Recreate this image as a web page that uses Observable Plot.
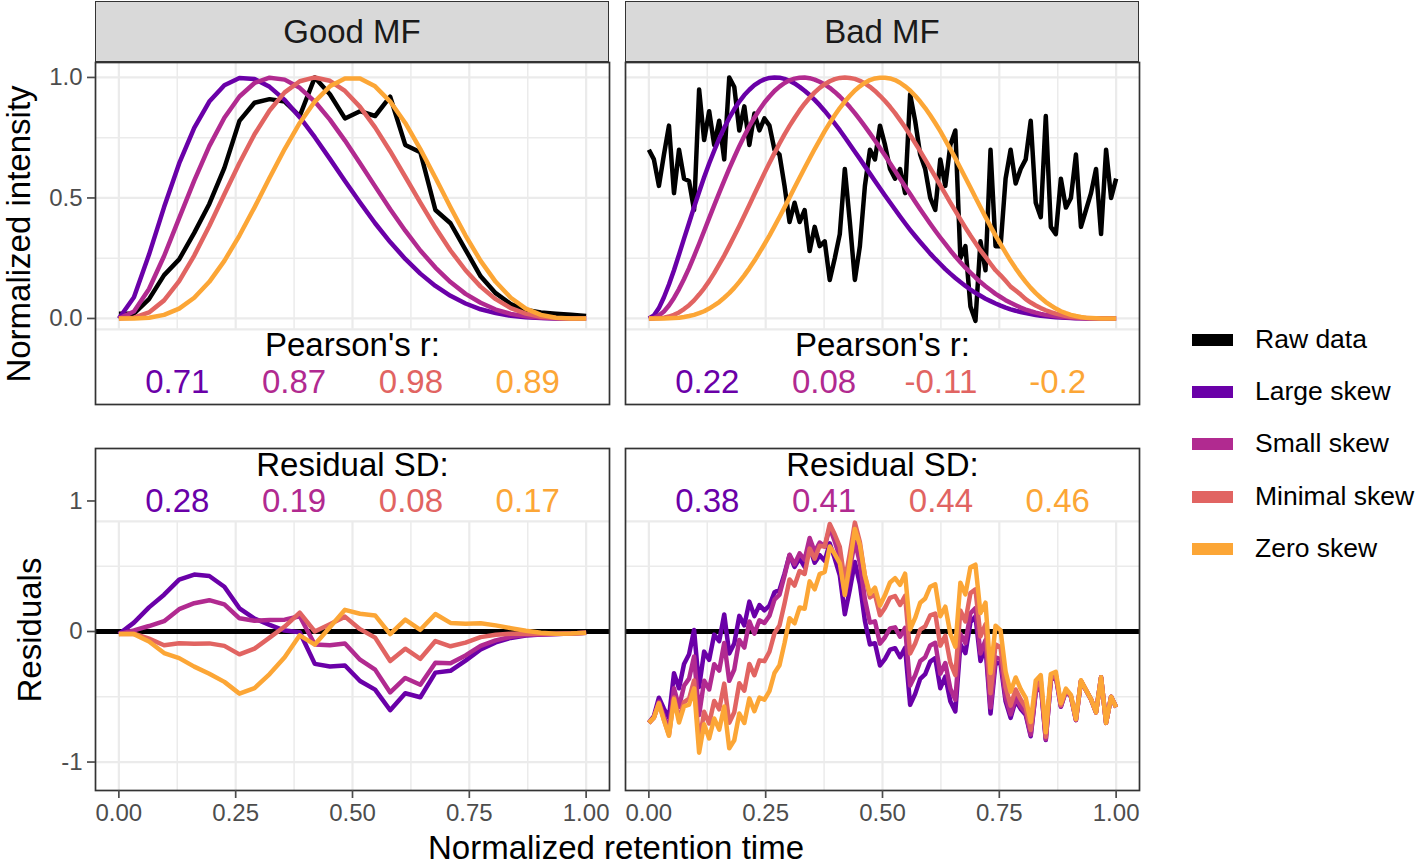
<!DOCTYPE html>
<html>
<head>
<meta charset="utf-8">
<script src="https://cdn.jsdelivr.net/npm/d3@7"></script>
<script src="https://cdn.jsdelivr.net/npm/@observablehq/plot@0.6"></script>
<style>
  html, body { margin: 0; padding: 0; background: #fff; }
  #wrap { position: relative; width: 1416px; height: 867px; overflow: hidden; font-family: 'Liberation Sans', Arial, Helvetica, sans-serif; }
  .strip { position: absolute; background: #d9d9d9; border: 1.7px solid #333; box-sizing: border-box;
           display: flex; align-items: center; justify-content: center; font-size: 33px; color: #1a1a1a; }
  .title { position: absolute; white-space: nowrap; font-size: 33px; line-height: 1; color: #000; }
  .key { position: absolute; width: 41px; height: 12px; }
  .keytxt { position: absolute; font-size: 26.5px; line-height: 1; color: #000; white-space: nowrap; }
</style>
</head>
<body>
<div id="wrap"></div>
<script>
// ---------------- data ----------------
const panelNames = ["Good MF", "Bad MF"];
const seriesNames = ["Raw data", "Large skew", "Small skew", "Minimal skew", "Zero skew"];
const seriesColors = ["#000000", "#6A00A8", "#B12A90", "#E16462", "#FCA636"];

// Good MF raw intensities (32 evenly spaced retention times)
const goodRaw = [0.02,0.02,0.08,0.18,0.245,0.355,0.475,0.625,0.82,0.895,0.91,0.90,0.84,1.0,0.93,0.83,
  0.86,0.84,0.92,0.72,0.69,0.45,0.395,0.285,0.175,0.105,0.06,0.035,0.025,0.02,0.015,0.01];

// Bad MF raw intensities (94 evenly spaced retention times)
const badRaw = [0.70,0.66,0.55,0.68,0.80,0.52,0.70,0.58,0.57,0.45,
  0.95,0.74,0.86,0.72,0.82,0.66,1.00,0.96,0.78,0.88,
  0.72,0.85,0.78,0.83,0.80,0.70,0.68,0.55,0.40,0.48,
  0.40,0.45,0.28,0.38,0.30,0.32,0.16,0.25,0.35,0.62,
  0.40,0.16,0.30,0.55,0.70,0.66,0.80,0.72,0.62,0.58,
  0.62,0.52,0.93,0.82,0.68,0.62,0.50,0.45,0.66,0.55,
  0.72,0.78,0.25,0.30,0.05,-0.01,0.32,0.20,0.70,0.30,
  0.30,0.58,0.70,0.56,0.62,0.66,0.82,0.48,0.42,0.84,
  0.38,0.35,0.58,0.46,0.50,0.68,0.38,0.45,0.52,0.62,
  0.35,0.70,0.50,0.58];

// Model fits (94 evenly spaced points; Good MF uses every third point)
const fitLarge = [0,0.012,0.043,0.088,0.141,0.200,0.265,0.331,0.396,0.462,0.525,0.586,0.643,0.696,0.746,0.791,
  0.832,0.868,0.900,0.927,0.949,0.968,0.982,0.992,0.998,1.0,0.999,0.994,0.986,0.975,0.961,0.945,0.927,0.907,
  0.885,0.861,0.835,0.808,0.781,0.752,0.722,0.692,0.662,0.631,0.601,0.570,0.540,0.510,0.481,0.452,0.423,0.395,
  0.368,0.342,0.317,0.293,0.269,0.247,0.226,0.205,0.186,0.168,0.151,0.135,0.120,0.106,0.094,0.082,0.072,0.062,
  0.053,0.045,0.038,0.032,0.027,0.022,0.018,0.014,0.011,0.009,0.007,0.005,0.004,0.003,0.002,0.001,0.001,
  0,0,0,0,0,0,0];
const fitSmall = [0,0.002,0.012,0.029,0.054,0.085,0.122,0.164,0.209,0.259,0.310,0.363,0.416,0.469,0.521,0.572,
  0.622,0.669,0.715,0.757,0.797,0.833,0.866,0.896,0.921,0.944,0.962,0.977,0.988,0.995,0.999,1.0,0.997,0.991,
  0.982,0.971,0.957,0.940,0.921,0.900,0.877,0.852,0.825,0.797,0.768,0.738,0.707,0.676,0.644,0.612,0.580,0.548,
  0.516,0.484,0.453,0.423,0.393,0.364,0.336,0.309,0.282,0.257,0.233,0.211,0.190,0.170,0.151,0.134,0.118,0.102,
  0.089,0.076,0.065,0.055,0.045,0.037,0.030,0.024,0.019,0.015,0.012,0.009,0.007,0.005,0.003,0.002,0.001,0.001,
  0.001,0,0,0,0,0];
const fitMinimal = [0,0,0.001,0.003,0.008,0.015,0.025,0.039,0.055,0.075,0.099,0.125,0.155,0.188,0.224,0.261,
  0.301,0.342,0.384,0.427,0.471,0.515,0.559,0.603,0.645,0.686,0.726,0.764,0.799,0.832,0.863,0.891,0.916,0.938,
  0.957,0.972,0.984,0.993,0.998,1.0,0.998,0.994,0.986,0.975,0.961,0.944,0.924,0.902,0.878,0.852,0.823,0.793,
  0.761,0.728,0.694,0.659,0.624,0.588,0.552,0.517,0.481,0.446,0.411,0.377,0.344,0.313,0.282,0.255,0.227,0.200,
  0.179,0.156,0.132,0.116,0.099,0.080,0.066,0.054,0.043,0.034,0.026,0.020,0.015,0.010,0.007,0.005,0.003,0.002,
  0.001,0.001,0,0,0,0];
const fitZero = [0,0,0,0,0.001,0.002,0.003,0.006,0.010,0.015,0.022,0.030,0.041,0.054,0.068,0.086,0.105,0.127,
  0.152,0.179,0.208,0.239,0.273,0.308,0.344,0.382,0.421,0.461,0.502,0.543,0.584,0.624,0.664,0.703,0.740,0.777,
  0.811,0.843,0.873,0.900,0.924,0.946,0.963,0.978,0.989,0.996,0.999,
  0.999,0.996,0.989,0.978,0.963,0.946,0.924,0.900,0.873,0.843,0.811,0.777,0.740,0.703,0.664,0.624,0.584,0.543,
  0.502,0.461,0.421,0.382,0.344,0.308,0.273,0.239,0.208,0.179,0.152,0.127,0.105,0.086,0.068,0.054,0.041,0.030,
  0.022,0.015,0.010,0.006,0.003,0.002,0.001,0,0,0,0];

// Annotation values
const pearsonGood = ["0.71", "0.87", "0.98", "0.89"];
const pearsonBad = ["0.22", "0.08", "-0.11", "-0.2"];
const residSdGood = ["0.28", "0.19", "0.08", "0.17"];
const residSdBad = ["0.38", "0.41", "0.44", "0.46"];

// Axis ticks
const xMajor = [0, 0.25, 0.5, 0.75, 1];
const xMinor = [0.125, 0.375, 0.625, 0.875];
const xTickLabels = ["0.00", "0.25", "0.50", "0.75", "1.00"];
const topYMajor = [0, 0.5, 1], topYMinor = [-0.25, 0.25, 0.75], topYLabels = ["0.0", "0.5", "1.0"];
const botYMajor = [-1, 0, 1], botYMinor = [-0.5, 0.5], botYLabels = ["-1", "0", "1"];

// ---------------- derived tables ----------------
const fits = [fitLarge, fitSmall, fitMinimal, fitZero];
const fitNames = seriesNames.slice(1);
const goodFits = fits.map(f => f.filter((_, i) => i % 3 === 0));
const gx = goodRaw.map((_, i) => i / (goodRaw.length - 1));
const bx = badRaw.map((_, i) => i / (badRaw.length - 1));

function intensityRows(xs, raw, fs) {
  const rows = raw.map((v, i) => ({x: xs[i], y: v, series: "Raw data"}));
  fs.forEach((f, j) => f.forEach((v, i) => rows.push({x: xs[i], y: v, series: fitNames[j]})));
  return rows;
}
function residualRows(xs, raw, fs) {
  const rows = [];
  fs.forEach((f, j) => f.forEach((v, i) => rows.push({x: xs[i], y: v - raw[i], series: fitNames[j]})));
  return rows;
}
function valueRows(vals, y) {
  return vals.map((t, i) => ({x: (i + 0.5) / 4, y, t, series: fitNames[i]}));
}

// ---------------- drawing ----------------
const FONT = "'Liberation Sans', Arial, Helvetica, sans-serif";
const GRID = "#ebebeb";
const wrap = document.getElementById("wrap");

function panel(cfg) {
  const marks = [
    Plot.ruleX(xMinor, {stroke: GRID, strokeWidth: 1.5}),
    Plot.ruleX(xMajor, {stroke: GRID, strokeWidth: 2.2}),
    Plot.ruleY(cfg.yMinor, {stroke: GRID, strokeWidth: 1.5}),
    Plot.ruleY(cfg.yMajor, {stroke: GRID, strokeWidth: 2.2}),
    Plot.rect([cfg.cover], {x1: "x1", x2: "x2", y1: "y1", y2: "y2", fill: "white"}),
    Plot.ruleY([cfg.coverEdge], {stroke: GRID, strokeWidth: 2.2})
  ];
  if (cfg.zero) marks.push(Plot.ruleY([0], {stroke: "black", strokeWidth: 4.8}));
  marks.push(Plot.line(cfg.rows, {x: "x", y: "y", z: "series", stroke: "series", strokeWidth: 4.5,
    strokeLinejoin: "round", strokeLinecap: "butt"}));
  marks.push(Plot.text([cfg.head], {x: "x", y: "y", text: "t", fontSize: 33, fill: "black", lineHeight: 0.9}));
  marks.push(Plot.text(cfg.vals, {x: "x", y: "y", text: "t", fill: "series", fontSize: 33, lineHeight: 0.9}));
  marks.push(Plot.frame({stroke: "#333", strokeWidth: 1.7}));
  if (cfg.showY) marks.push(Plot.axisY(cfg.yMajor, {anchor: "left", tickSize: 8, tickPadding: 5, fontSize: 24,
    color: "#4d4d4d", strokeWidth: 1.7, label: null,
    tickFormat: d => cfg.yLabels[cfg.yMajor.indexOf(d)]}));
  if (cfg.showX) marks.push(Plot.axisX(xMajor, {anchor: "bottom", tickSize: 8, tickPadding: 5, fontSize: 24,
    color: "#4d4d4d", strokeWidth: 1.7, label: null,
    tickFormat: d => xTickLabels[xMajor.indexOf(d)]}));
  const svg = Plot.plot({
    width: cfg.mL + 514, height: 342 + cfg.mB,
    marginLeft: cfg.mL, marginRight: 0, marginTop: 0, marginBottom: cfg.mB,
    x: {domain: [-0.05, 1.05], axis: cfg.showX ? undefined : null},
    y: {domain: cfg.yDomain, axis: cfg.showY ? undefined : null},
    color: {domain: seriesNames, range: seriesColors},
    style: {fontFamily: FONT, background: "transparent", overflow: "visible"},
    marks
  });
  svg.style.position = "absolute";
  svg.style.left = cfg.left + "px";
  svg.style.top = cfg.top + "px";
  svg.style.maxWidth = "none";
  wrap.appendChild(svg);
}

const topDomain = [-0.357, 1.062];
const botDomain = [-1.218, 1.402];
const topCover = {x1: -0.05, x2: 1.05, y1: topDomain[0], y2: -0.045};
const botCover = {x1: -0.05, x2: 1.05, y1: 0.843, y2: botDomain[1]};

[
  {name: 0, left: 0, mL: 95, xs: gx, raw: goodRaw, fs: goodFits, pr: pearsonGood, sd: residSdGood, showY: true},
  {name: 1, left: 625, mL: 0, xs: bx, raw: badRaw, fs: fits, pr: pearsonBad, sd: residSdBad, showY: false}
].forEach(p => {
  panel({
    left: p.left, top: 62, mL: p.mL, mB: 0, showY: p.showY, showX: false,
    yDomain: topDomain, yMajor: topYMajor, yMinor: topYMinor, yLabels: topYLabels,
    cover: topCover, coverEdge: -0.045, zero: false,
    rows: intensityRows(p.xs, p.raw, p.fs),
    head: {x: 0.5, y: -0.115, t: "Pearson's r:"},
    vals: valueRows(p.pr, -0.27)
  });
  panel({
    left: p.left, top: 448, mL: p.mL, mB: 45, showY: p.showY, showX: true,
    yDomain: botDomain, yMajor: botYMajor, yMinor: botYMinor, yLabels: botYLabels,
    cover: botCover, coverEdge: 0.843, zero: true,
    rows: residualRows(p.xs, p.raw, p.fs),
    head: {x: 0.5, y: 1.267, t: "Residual SD:"},
    vals: valueRows(p.sd, 0.99)
  });
  const s = document.createElement("div");
  s.className = "strip";
  s.style.left = (p.name === 0 ? 95 : 625) + "px";
  s.style.top = "1px"; s.style.width = "514px"; s.style.height = "61px";
  s.textContent = panelNames[p.name];
  wrap.appendChild(s);
});

// axis titles
function title(text, cx, cy, rotate) {
  const d = document.createElement("div");
  d.className = "title";
  d.textContent = text;
  d.style.left = cx + "px"; d.style.top = cy + "px";
  d.style.transform = "translate(-50%,-50%)" + (rotate ? " rotate(-90deg)" : "");
  wrap.appendChild(d);
}
title("Normalized intensity", 18, 234, true);
title("Residuals", 29, 630, true);
title("Normalized retention time", 616, 847, false);

// legend
const keyY = [340, 392, 444, 497, 549];
seriesNames.forEach((n, i) => {
  const k = document.createElement("div");
  k.className = "key";
  k.style.left = "1192px"; k.style.top = (keyY[i] - 6) + "px";
  k.style.background = seriesColors[i];
  wrap.appendChild(k);
  const t = document.createElement("div");
  t.className = "keytxt";
  t.textContent = n;
  t.style.left = "1255px"; t.style.top = (keyY[i] - 14) + "px";
  wrap.appendChild(t);
});
</script>
</body>
</html>
